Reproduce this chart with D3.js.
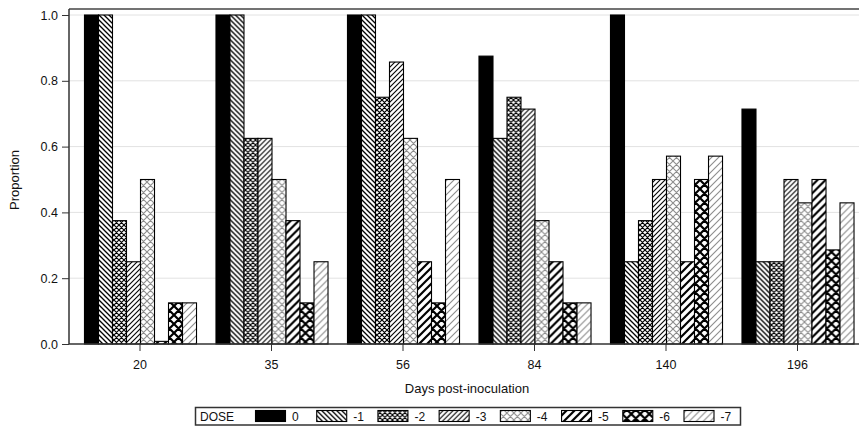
<!DOCTYPE html>
<html><head><meta charset="utf-8">
<script src="https://cdn.jsdelivr.net/npm/d3@7/dist/d3.min.js"></script>
<style>
html,body{margin:0;padding:0;background:#fff;}
svg{display:block;font-family:"Liberation Sans",Arial,sans-serif;}
</style></head>
<body><svg id="chart" width="859" height="432"></svg>
<script>
const days = ["20","35","56","84","140","196"];
const doses = ["0","-1","-2","-3","-4","-5","-6","-7"];
const dose0  = [1.0, 1.0, 1.0, 0.875, 1.0, 0.714];
const doseM1 = [1.0, 1.0, 1.0, 0.625, 0.25, 0.25];
const doseM2 = [0.375, 0.625, 0.75, 0.75, 0.375, 0.25];
const doseM3 = [0.25, 0.625, 0.857, 0.714, 0.5, 0.5];
const doseM4 = [0.5, 0.5, 0.625, 0.375, 0.571, 0.429];
const doseM5 = [0.008, 0.375, 0.25, 0.25, 0.25, 0.5];
const doseM6 = [0.125, 0.125, 0.125, 0.125, 0.5, 0.286];
const doseM7 = [0.125, 0.25, 0.5, 0.125, 0.571, 0.429];
const yTicks = [0, 0.2, 0.4, 0.6, 0.8, 1.0];
const series = [dose0, doseM1, doseM2, doseM3, doseM4, doseM5, doseM6, doseM7];

const svg = d3.select("#chart");
const defs = svg.append("defs");

const patSpec = [
  {type:"solid"},
  {type:"back", s:5, c:"#000", w:1.3},
  {type:"cross", s:5, c:"#000", w:1.2},
  {type:"fwd", s:5, c:"#000", w:1.1},
  {type:"cross", s:7, c:"#8c8c8c", w:1.1},
  {type:"fwd", s:8, c:"#000", w:2.2},
  {type:"cross", s:9, c:"#000", w:2.2},
  {type:"fwd", s:7, c:"#8c8c8c", w:1.1}
];
patSpec.forEach((p,i)=>{
  if(p.type==="solid") return;
  const s = p.s;
  const pat = defs.append("pattern").attr("id","pat"+i)
    .attr("patternUnits","userSpaceOnUse").attr("width",s).attr("height",s);
  pat.append("rect").attr("width",s).attr("height",s).attr("fill","#fff");
  const fwd = `M0,${s} L${s},0 M${-s/2},${s/2} L${s/2},${-s/2} M${s/2},${s*1.5} L${s*1.5},${s/2}`;
  const back = `M0,0 L${s},${s} M${-s/2},${s/2} L${s/2},${s*1.5} M${s/2},${-s/2} L${s*1.5},${s/2}`;
  let d = p.type==="fwd" ? fwd : p.type==="back" ? back : fwd+" "+back;
  pat.append("path").attr("d",d).attr("stroke",p.c).attr("stroke-width",p.w).attr("fill","none");
});
const fillFor = i => patSpec[i].type==="solid" ? "#000" : `url(#pat${i})`;

const plotLeft = 69, plotRight = 859, plotTop = 9;
const y = d3.scaleLinear().domain([0,1]).range([344,15]);
const x0 = d3.scaleBand().domain(days).range([74.25, 863.25]).paddingInner(0.148).paddingOuter(0.074);
const x1 = d3.scaleBand().domain(doses).range([0, x0.bandwidth()]);

svg.append("g").selectAll("line").data(yTicks.slice(1)).join("line")
  .attr("x1",plotLeft).attr("x2",plotRight).attr("y1",d=>y(d)).attr("y2",d=>y(d))
  .attr("stroke","#e2e2e2").attr("stroke-width",1);

svg.append("line").attr("x1",plotLeft).attr("x2",plotRight).attr("y1",plotTop).attr("y2",plotTop)
  .attr("stroke","#444").attr("stroke-width",1.5);

const groups = svg.append("g").selectAll("g").data(days).join("g")
  .attr("transform",d=>`translate(${x0(d)},0)`);
groups.selectAll("rect").data((d,gi)=>doses.map((ds,k)=>({dose:ds,k,v:series[k][gi]}))).join("rect")
  .attr("x",d=>x1(d.dose)+0.5).attr("width",x1.bandwidth())
  .attr("y",d=>y(d.v)).attr("height",d=>y(0)-y(d.v))
  .attr("fill",d=>fillFor(d.k)).attr("stroke","#000").attr("stroke-width",1.1);

const yAxis = svg.append("g").attr("transform",`translate(${plotLeft},0)`)
  .call(d3.axisLeft(y).tickValues(yTicks).tickFormat(d3.format(".1f")).tickSize(7).tickPadding(4));
yAxis.select(".domain").attr("d",`M0,${plotTop}V${y(0)}`).attr("stroke","#333").attr("stroke-width",1.5);
yAxis.selectAll(".tick line").attr("stroke","#333");
yAxis.selectAll("text").attr("font-size",12.5).attr("fill","#111").attr("font-family","Liberation Sans, Arial, sans-serif");

const xAxis = svg.append("g").attr("transform",`translate(0,${y(0)})`)
  .call(d3.axisBottom(x0).tickSize(7).tickPadding(9));
xAxis.select(".domain").attr("d",`M${plotLeft},0H${plotRight}`).attr("stroke","#333").attr("stroke-width",1.5);
xAxis.selectAll(".tick line").attr("stroke","#333");
xAxis.selectAll("text").attr("font-size",12.5).attr("fill","#111").attr("font-family","Liberation Sans, Arial, sans-serif");

svg.append("text").attr("x",467).attr("y",393).attr("text-anchor","middle")
  .attr("font-size",13).attr("fill","#111").text("Days post-inoculation");
svg.append("text").attr("transform","translate(19,180) rotate(-90)").attr("text-anchor","middle")
  .attr("font-size",13).attr("fill","#111").text("Proportion");

const lg = svg.append("g");
lg.append("rect").attr("x",195.5).attr("y",407.5).attr("width",545).attr("height",17.5)
  .attr("fill","#fff").attr("stroke","#333").attr("stroke-width",1.5);
lg.append("text").attr("x",200).attr("y",420.5).attr("font-size",12).attr("fill","#111").text("DOSE");
const lx = d3.scaleLinear().domain([0,7]).range([255,683.5]);
const items = lg.selectAll("g").data(doses).join("g")
  .attr("transform",(d,i)=>`translate(${lx(i)},0)`);
items.append("rect").attr("x",0.5).attr("y",410.5).attr("width",30).attr("height",11)
  .attr("fill",(d,i)=>fillFor(i)).attr("stroke","#000").attr("stroke-width",1.1);
items.append("text").attr("x",37).attr("y",420.5).attr("font-size",12).attr("fill","#111").text(d=>d);
</script></body></html>
